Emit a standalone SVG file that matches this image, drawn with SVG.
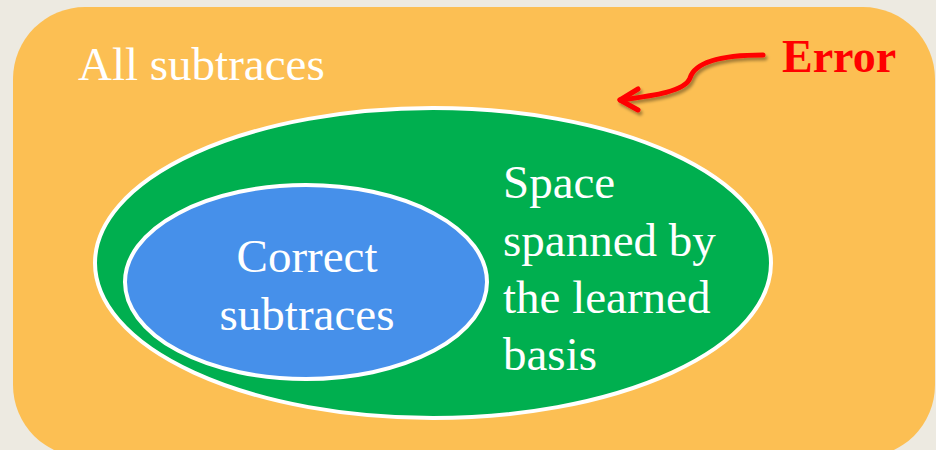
<svg xmlns="http://www.w3.org/2000/svg" width="936" height="450" viewBox="0 0 936 450">
<defs>
<style>
.t{font-family:"Liberation Serif","Times New Roman",serif;fill:#fff;font-size:47px}
</style>
<filter id="sh" x="-20%" y="-20%" width="140%" height="140%">
<feDropShadow dx="2" dy="3" stdDeviation="1.5" flood-color="#000" flood-opacity="0.35"/>
</filter>
</defs>
<rect width="936" height="450" fill="#EDEAE1"/>
<g id="all">
<rect x="13" y="7" width="922" height="450" rx="72" fill="#FCBF53"/>
<text class="t" x="78" y="80">All subtraces</text>
</g>
<g id="space">
<ellipse cx="433" cy="263" rx="338" ry="155" fill="#00AF4F" stroke="#fff" stroke-width="4"/>
<text class="t"><tspan x="503" y="198">Space</tspan><tspan x="503" y="256">spanned by</tspan><tspan x="503" y="313">the learned</tspan><tspan x="503" y="370">basis</tspan></text>
</g>
<g id="correct">
<ellipse cx="306" cy="282" rx="181" ry="97" fill="#4690EA" stroke="#fff" stroke-width="4"/>
<text class="t" text-anchor="middle"><tspan x="307" y="272">Correct</tspan><tspan x="307" y="330">subtraces</tspan></text>
</g>
<g id="connectors">
<g filter="url(#sh)" fill="none" stroke="#FF0000" stroke-width="5" stroke-linecap="round" stroke-linejoin="round">
<path d="M763,55 C720,55 695,62 690,78 C685,92 650,96 620,100"/>
<path d="M638,89 L620,100 L638,110"/>
</g>
</g>
<g id="error">
<text x="782" y="72" font-family="Liberation Serif,'Times New Roman',serif" font-weight="bold" font-size="46" fill="#FF0000">Error</text>
</g>
</svg>
